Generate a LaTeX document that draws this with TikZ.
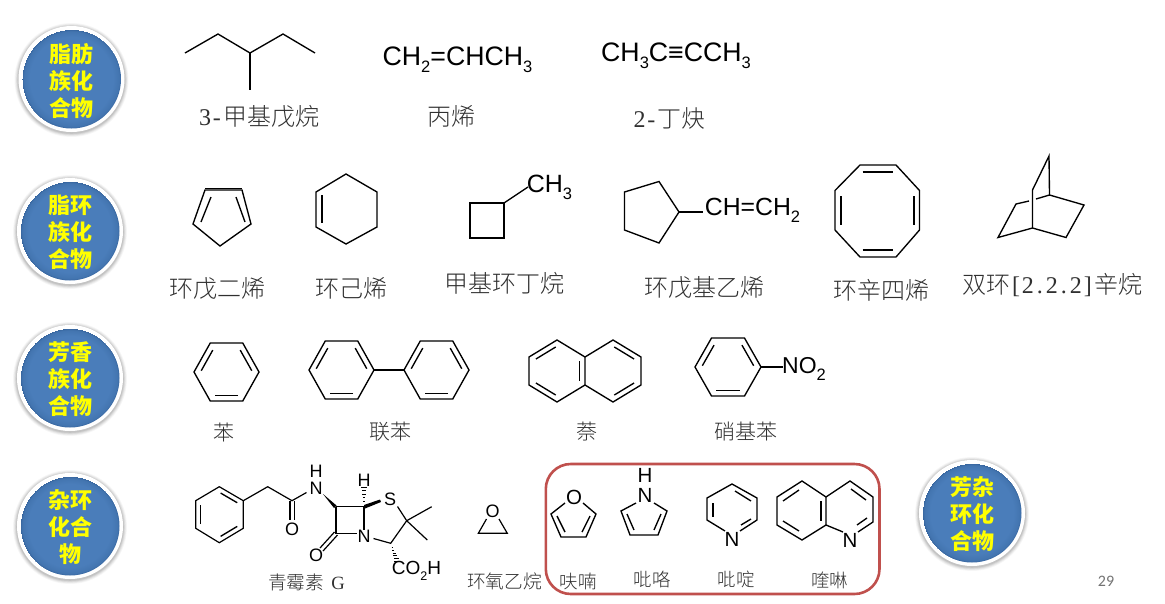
\documentclass[tikz,border=0pt]{standalone}
\usepackage{fontspec}
\setmainfont{Liberation Sans}
\newfontfamily\cjk{Noto Sans CJK SC}
\newfontfamily\cjkthin{Noto Sans CJK SC Light}
\newfontfamily\latserif{Liberation Serif}
\newfontfamily\pagefont{Carlito}
\usetikzlibrary{calc}
\definecolor{badgeblue}{HTML}{4A7DBA}
\definecolor{badgemid}{HTML}{4375B0}
\definecolor{badgedark}{HTML}{37659E}
\definecolor{framered}{HTML}{C0504D}
\definecolor{labelgrey}{HTML}{303030}
\definecolor{chipyellow}{HTML}{FFFF00}
\pgfdeclareradialshading{badgesh}{\pgfpoint{0bp}{1.5bp}}{color(0bp)=(badgeblue); color(21bp)=(badgeblue); color(24bp)=(badgemid); color(25bp)=(badgedark)}
\tikzset{
  bond/.style={line width=1.35pt,line join=miter,line cap=butt},
  thinbond/.style={line width=1.2pt,line join=miter,line cap=butt},
  atom/.style={inner sep=0pt,font=\fontsize{20.5}{20.5}\selectfont},
  patom/.style={inner sep=0pt,font=\fontsize{18}{18}\selectfont},
  formula/.style={inner sep=0pt,font=\fontsize{26.7}{27}\selectfont},
  cname/.style={inner sep=0pt,text=labelgrey,font=\cjkthin\fontsize{#1}{#1}\selectfont},
  cname/.default=24,
  wedge/.style={fill=black,draw=none},
}
\newcommand\csub[2][16.5]{\raisebox{-0.28em}{\fontsize{#1}{#1}\selectfont #2}}
\newcommand\mch[1]{\makebox[0.5em]{\latserif #1}}
\newcommand\ibond[3]{\draw[bond,shorten <=1.5pt,shorten >=1.5pt] ($(#3)!0.8!(#1)$) -- ($(#3)!0.8!(#2)$);}
\newcommand\benz[4]{%
  \coordinate (bL) at ({#1-#3},#2);
  \coordinate (bTL) at ({#1-#3/2},{#2-#4});
  \coordinate (bTR) at ({#1+#3/2},{#2-#4});
  \coordinate (bR) at ({#1+#3},#2);
  \coordinate (bBR) at ({#1+#3/2},{#2+#4});
  \coordinate (bBL) at ({#1-#3/2},{#2+#4});
  \coordinate (bC) at (#1,#2);
  \draw[bond] (bL)--(bTL)--(bTR)--(bR)--(bBR)--(bBL)--cycle;
  \ibond{bL}{bTL}{bC}\ibond{bTR}{bR}{bC}\ibond{bBR}{bBL}{bC}}
\newcommand\badge[6]{%
  \foreach \rr/\oo in {5/0.03,4/0.04,3/0.05,2/0.06,1/0.07}{
    \fill[black,opacity=\oo] (#2,{#3+1}) circle ({53+\rr*0.8});}
  \fill[white] (#2,#3) circle (53);
  \shade[shading=badgesh] (#2,#3) circle (49.5);
  \node[inner sep=0pt,align=center,text=chipyellow,font=\cjk\bfseries\fontsize{22}{27}\selectfont] (#1) at (#2,{#3+1.5}) {#4\\#5\\#6};}
\begin{document}
\begin{tikzpicture}[x=1pt,y=-1pt]
\useasboundingbox (0,0) rectangle (1165,603);
\fill[white] (0,0) rectangle (1165,603);
% badges
\badge{b1}{71.5}{79}{脂肪}{族化}{合物}
\badge{b2}{70}{231}{脂环}{族化}{合物}
\badge{b3}{70}{378}{芳香}{族化}{合物}
\badge{b4}{70}{526}{杂环}{化合}{物}
\badge{b5}{972}{513}{芳杂}{环化}{合物}
% row 1
\draw[bond] (185,53)--(218,34)--(250,53)--(283,34)--(315,53);
\draw[bond] (250,53)--(250,90);
\node[formula] (f1) at (457.5,60) {CH\csub{2}=CHCH\csub{3}};
\node[formula] (f2) at (676,56) {CH\csub{3}C≡CCH\csub{3}};
\node[cname] (l1) at (259,116) {\mch{3}\mch{-}甲基戊烷};
\node[cname] (l2) at (451,116) {丙烯};
\node[cname] (l3) at (669.5,118) {\mch{2}\mch{-}丁炔};
% row 2
\draw[bond] (205,190)--(242,190)--(251,224)--(220,246)--(193,224)--cycle;
\draw[bond] (205,188.8)--(242,188.8);
\draw[bond] (211,197)--(201,222);
\draw[bond] (236,197)--(245,222);
\draw[bond] (346,174)--(377,192)--(377,227)--(346,244)--(316,227)--(316,192)--cycle;
\draw[bond] (322,195)--(322,223);
\draw[bond] (470,203)rectangle(504,238);
\draw[bond] (504,203)--(528,187);
\node[atom,font=\fontsize{25}{25}\selectfont] (m1) at (549.5,187) {CH\csub{3}};
\draw[bond] (624.5,192)--(659,181.5)--(679,212)--(659,243)--(624.5,230)--cycle;
\draw[bond] (679,212)--(703,212);
\node[atom,font=\fontsize{24.8}{25}\selectfont] (m2) at (752.5,210) {CH=CH\csub{2}};
\draw[bond] (860,165)--(896,165)--(919.5,190.5)--(919.5,230)--(896,257)--(860,257)--(835,230)--(835,190.5)--cycle;
\draw[bond] (862.5,172)--(893,172);
\draw[bond] (862.5,250)--(893,250);
\draw[bond] (841,196)--(841,225);
\draw[bond] (914,196)--(914,225);
\draw[bond] (1049.5,195)--(1049,156)--(1032.5,190)--(1032.5,228)--(998,237.5)--(1016,204)--(1029,201);
\draw[bond] (1036,199)--(1049.5,195)--(1084,205)--(1066,237.5)--(1032.5,228);
\node[cname] (l4) at (217.5,289) {环戊二烯};
\node[cname] (l5) at (351,288) {环己烯};
\node[cname] (l6) at (504.5,283) {甲基环丁烷};
\node[cname] (l7) at (704,288) {环戊基乙烯};
\node[cname] (l8) at (881,290) {环辛四烯};
\node[cname] (l9) at (1052,285) {双环\mch{[}\mch{2}\mch{.}\mch{2}\mch{.}\mch{2}\mch{]}辛烷};
% row 3
\benz{226.5}{372}{32.5}{29}
\benz{341.5}{370}{32.5}{29}
\benz{436.5}{370}{32.5}{29}
\draw[bond] (374,370)--(404,370);
\draw[bond] (557,340)--(585,357)--(585,385)--(557,402)--(529,385)--(529,357)--cycle;
\draw[bond] (585,357)--(613,340)--(641,357)--(641,385)--(613,402)--(585,385);
\coordinate (nl) at (557,371);
\coordinate (nr) at (613,371);
\ibond{557,340}{529,357}{nl}
\ibond{529,385}{557,402}{nl}
\ibond{585,357}{585,385}{nl}
\ibond{613,340}{641,357}{nr}
\ibond{641,385}{613,402}{nr}
\benz{728}{367}{33}{29}
\draw[bond] (761,367)--(783,367);
\node[atom,font=\fontsize{23}{23}\selectfont] (m3) at (804,369) {NO\csub{2}};
\node[cname=21] (l10) at (224,432) {苯};
\node[cname=21] (l11) at (390,432) {联苯};
\node[cname=21] (l12) at (587,432) {萘};
\node[cname=21] (l13) at (746,432) {硝基苯};
% penicillin
\coordinate (a1) at (219.3,486.7);\coordinate (a2) at (243.3,500.7);\coordinate (a3) at (243.3,528.3);
\coordinate (a4) at (219.3,542.7);\coordinate (a5) at (195.7,528.3);\coordinate (a6) at (195.7,500.7);
\coordinate (ac) at (219.5,514.7);
\draw[thinbond] (a1)--(a2)--(a3)--(a4)--(a5)--(a6)--cycle;
\ibond{a1}{a2}{ac}\ibond{a3}{a4}{ac}\ibond{a5}{a6}{ac}
\draw[thinbond] (a2)--(267.7,486.7)--(292,500.7)--(306.5,492.5);
\draw[thinbond] (290,501)--(290,520);
\draw[thinbond] (294.5,501)--(294.5,520);
\node[patom] (pO1) at (292,529.5) {O};
\node[patom] (pN1) at (316,488.5) {N};
\node[patom] (pH1) at (316,471.5) {H};
\fill[wedge] (323,494)--(336.5,505.5)--(334,508)--cycle;
\draw[thinbond] (336,506.7)--(364,506.7)--(364,530);
\draw[thinbond] (336,506.7)--(336,533.3)--(357,533.3);
\node[patom] (pN2) at (364,536) {N};
\fill[wedge] (364,505)--(365,508.5)--(381,502)--(380,499.5)--cycle;
\foreach \t/\w in {0.15/0.5,0.3/0.9,0.45/1.3,0.6/1.7,0.75/2.1}{
  \draw[line width=0.8pt] ({364-\w*1.2},{505-\t*24})--({364+\w*1.2},{505-\t*24});}
\node[patom] (pH2) at (364,480) {H};
\node[patom] (pS) at (390,499.5) {S};
\draw[thinbond] (397.5,506.5)--(406.7,520.7)--(431.7,506.7);
\draw[thinbond] (406.7,520.7)--(427.3,540);
\draw[thinbond] (406.7,520.7)--(390.7,543.3)--(373.5,538.5);
\draw[thinbond] (334.5,532)--(320,548);
\draw[thinbond] (337.5,535)--(323,551);
\node[patom] (pO2) at (316,555) {O};
\foreach \t/\w in {0.15/0.4,0.3/0.8,0.45/1.2,0.6/1.6,0.75/2.0,0.9/2.4}{
  \draw[line width=0.8pt] ({391+\t*7-\w*1.2},{545+\t*18})--({391+\t*7+\w*1.2},{545+\t*18});}
\node[patom,font=\fontsize{19}{19}\selectfont] (pC) at (416.5,571) {CO\csub[12.5]{2}H};
\node[cname=18.7] (l14) at (305.5,582) {青霉素\mch{\ }\mch{G}};
% epoxide
\node[patom] (eO) at (492.7,511) {O};
\draw[thinbond] (486.5,519)--(478.3,533.3)--(507.3,533.3)--(499,519);
\node[cname=18.7] (l15) at (504.5,581) {环氧乙烷};
% frame
\draw[framered,line width=2.6pt,rounded corners=25pt] (545.8,464)rectangle(879.5,594);
% furan
\node[atom] (fO) at (574,497) {O};
\draw[bond] (565,503)--(551,514)--(561,537)--(586,537)--(596,514)--(583,503);
\draw[bond] (557,516)--(565,532);
\draw[bond] (590,516)--(582,532);
% pyrrole
\node[atom] (pyH) at (645,475) {H};
\node[atom] (pyN) at (645,495) {N};
\draw[bond] (636,503)--(621,511)--(630,535)--(658,535)--(667,511)--(654,503);
\draw[bond] (627,514)--(634,530);
\draw[bond] (661,514)--(654,530);
% pyridine
\node[atom] (pdN) at (732,539) {N};
\draw[bond] (725,531)--(707,520)--(707,498)--(732,484)--(757,498)--(757,520)--(740,531);
\draw[bond] (713,503)--(713,517);
\draw[bond] (735,491)--(751,501);
\draw[bond] (751,519)--(741,525);
% quinoline
\node[atom] (qN) at (850,540) {N};
\draw[bond] (826,497)--(802,481)--(777,497)--(777,525)--(802,540)--(826,525)--(826,497);
\draw[bond] (826,497)--(850,481)--(873,497)--(873,522)--(858,532);
\draw[bond] (826,525)--(843,532);
\draw[bond] (783,501)--(799,490);
\draw[bond] (783,521)--(799,531);
\draw[bond] (821,501)--(821,521);
\draw[bond] (851,489)--(866,500);
\draw[bond] (867,518)--(857,525);
% labels
\node[cname=18.5] (l16) at (578,581) {呋喃};
\node[cname=18.5] (l17) at (652,579) {吡咯};
\node[cname=18.5] (l18) at (736,579) {吡啶};
\node[cname=18.5] (l19) at (829.5,580) {喹啉};
\node[inner sep=0pt,text=black!55,font=\pagefont\fontsize{16}{16}\selectfont] (pg) at (1106,581) {29};
\end{tikzpicture}
\end{document}
